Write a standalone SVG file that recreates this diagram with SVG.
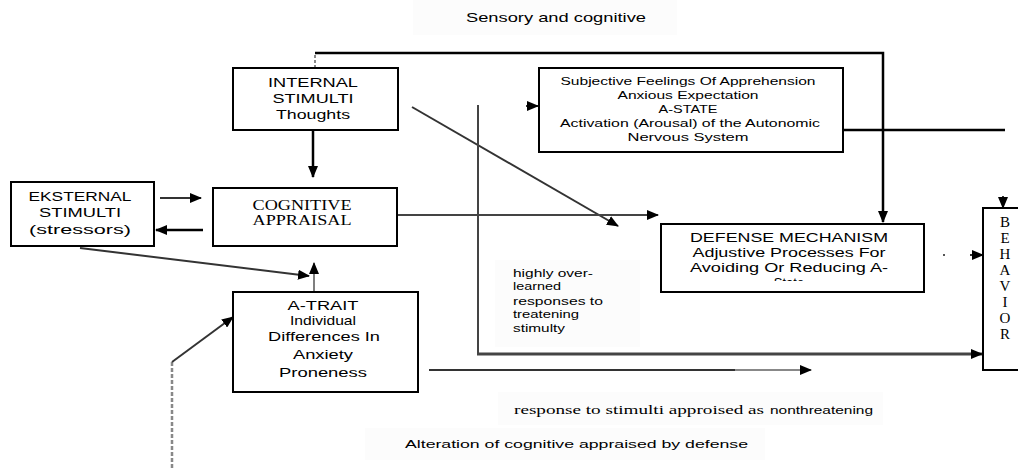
<svg xmlns="http://www.w3.org/2000/svg" width="1018" height="468" viewBox="0 0 1018 468">
<style>
.box{fill:#fff;stroke:#000;stroke-width:2}
.t{font-family:"Liberation Sans",Arial,sans-serif;font-size:13px;fill:#000;text-anchor:middle}
.s{font-family:"Liberation Sans",Arial,sans-serif;font-size:11.5px;fill:#000;text-anchor:middle}
.sl{font-family:"Liberation Sans",Arial,sans-serif;font-size:11.5px;fill:#000}
.serif{font-family:"Liberation Serif","Times New Roman",serif;fill:#000}
.c{fill:none;stroke:#333;stroke-width:2}
.k{fill:none;stroke:#000;stroke-width:2.5}
.bg{fill:#fcfcfc}
</style>
<defs>
<marker id="ah" markerWidth="12" markerHeight="10" refX="11" refY="5" orient="auto" markerUnits="userSpaceOnUse"><path d="M0,0 L12,5 L0,10 z" fill="#000"/></marker>
</defs>

<rect class="bg" x="413" y="0" width="264" height="35"/>
<rect class="bg" x="495" y="260" width="145" height="87"/>
<rect class="bg" x="498" y="392" width="385" height="33"/>
<rect class="bg" x="365" y="428" width="400" height="32"/>

<g id="connectors">
<path d="M315,68 V54" fill="none" stroke="#888" stroke-width="2" stroke-dasharray="3,2"/>
<path class="k" d="M315,53 H883 V222" marker-end="url(#ah)"/>
<path class="k" d="M313,130 V177" marker-end="url(#ah)"/>
<path class="c" d="M160,198 H201" marker-end="url(#ah)"/>
<path class="k" d="M203,230 H156" marker-end="url(#ah)"/>
<path class="c" d="M80,248 L309,276" marker-end="url(#ah)"/>
<path fill="none" stroke="#555" stroke-width="1.5" d="M314,292 V263" marker-end="url(#ah)"/>
<path fill="none" stroke="#888" stroke-width="2.5" stroke-dasharray="4,2" d="M172,468 V362"/>
<path class="c" d="M172,362 L233,317" marker-end="url(#ah)"/>
<path class="c" d="M412,107 L618,226" marker-end="url(#ah)"/>
<path fill="none" stroke="#444" stroke-width="2" d="M478,105 V354"/>
<path fill="none" stroke="#444" stroke-width="3" d="M477,354 H982" marker-end="url(#ah)"/>
<path fill="none" stroke="#444" stroke-width="2" d="M397,215 H658" marker-end="url(#ah)"/>
<path class="c" d="M526,106 H538" marker-end="url(#ah)"/>
<path class="k" d="M843,130 H1005"/>
<path fill="none" stroke="#333" stroke-width="2" d="M429,370 H735"/>
<path fill="none" stroke="#888" stroke-width="2" d="M735,370 H811" marker-end="url(#ah)"/>
<path class="c" d="M1003,196 V208" marker-end="url(#ah)"/>
<path class="c" d="M970,255 H983" marker-end="url(#ah)"/>
<rect x="943" y="254" width="2" height="2" fill="#555"/>
</g>

<g id="internal">
<rect class="box" x="233" y="68" width="165" height="62"/>
<text class="t" x="313" y="87" textLength="90" lengthAdjust="spacingAndGlyphs">INTERNAL</text>
<text class="t" x="313" y="103" textLength="81" lengthAdjust="spacingAndGlyphs">STIMULTI</text>
<text class="t" x="313" y="119" textLength="74" lengthAdjust="spacingAndGlyphs">Thoughts</text>
</g>

<g id="eksternal">
<rect class="box" x="11" y="182" width="143" height="64"/>
<text class="t" x="80" y="201" textLength="103" lengthAdjust="spacingAndGlyphs">EKSTERNAL</text>
<text class="t" x="80" y="217" textLength="82" lengthAdjust="spacingAndGlyphs">STIMULTI</text>
<text class="t" x="80" y="234" textLength="102" lengthAdjust="spacingAndGlyphs">(stressors)</text>
</g>

<g id="cognitive">
<rect class="box" x="213" y="188" width="184" height="58"/>
<text class="serif" x="302" y="210" font-size="14" text-anchor="middle" textLength="99" lengthAdjust="spacingAndGlyphs">COGNITIVE</text>
<text class="serif" x="302" y="225" font-size="14" text-anchor="middle" textLength="99" lengthAdjust="spacingAndGlyphs">APPRAISAL</text>
</g>

<g id="atrait">
<rect class="box" x="233" y="292" width="185" height="100"/>
<text class="t" x="323" y="310" textLength="71" lengthAdjust="spacingAndGlyphs">A-TRAIT</text>
<text class="t" x="323" y="325" textLength="66" lengthAdjust="spacingAndGlyphs">Individual</text>
<text class="t" x="324" y="341" textLength="112" lengthAdjust="spacingAndGlyphs">Differences In</text>
<text class="t" x="323" y="359" textLength="60" lengthAdjust="spacingAndGlyphs">Anxiety</text>
<text class="t" x="323" y="377" textLength="88" lengthAdjust="spacingAndGlyphs">Proneness</text>
</g>

<g id="astate">
<rect class="box" x="539" y="68" width="304" height="84"/>
<text class="s" x="688" y="85" textLength="255" lengthAdjust="spacingAndGlyphs">Subjective Feelings Of Apprehension</text>
<text class="s" x="688" y="99" textLength="141" lengthAdjust="spacingAndGlyphs">Anxious Expectation</text>
<text class="s" x="688" y="113" textLength="59" lengthAdjust="spacingAndGlyphs">A-STATE</text>
<text class="s" x="690" y="127" textLength="260" lengthAdjust="spacingAndGlyphs">Activation (Arousal) of the Autonomic</text>
<text class="s" x="688" y="141" textLength="121" lengthAdjust="spacingAndGlyphs">Nervous System</text>
</g>

<g id="defense">
<clipPath id="dclip"><rect x="661" y="224" width="263" height="57"/></clipPath>
<rect class="box" x="661" y="224" width="263" height="68"/>
<g clip-path="url(#dclip)">
<text class="t" x="789" y="242" textLength="198" lengthAdjust="spacingAndGlyphs">DEFENSE MECHANISM</text>
<text class="t" x="789" y="257" textLength="193" lengthAdjust="spacingAndGlyphs">Adjustive Processes For</text>
<text class="t" x="789" y="272" textLength="198" lengthAdjust="spacingAndGlyphs">Avoiding Or Reducing A-</text>
<text class="t" x="789" y="287">State</text>
</g>
</g>

<g id="behavior">
<rect class="box" x="983" y="208" width="40" height="162"/>
<g class="serif" font-size="15" text-anchor="middle">
<text x="1005" y="227">B</text>
<text x="1005" y="243">E</text>
<text x="1005" y="259">H</text>
<text x="1005" y="275">A</text>
<text x="1005" y="291">V</text>
<text x="1005" y="307">I</text>
<text x="1005" y="323">O</text>
<text x="1005" y="339">R</text>
</g>
</g>

<g id="labels">
<text class="t" x="556" y="22" textLength="180" lengthAdjust="spacingAndGlyphs">Sensory and cognitive</text>
<text class="sl" x="513" y="277" textLength="80" lengthAdjust="spacingAndGlyphs">highly over-</text>
<text class="sl" x="513" y="290" textLength="48" lengthAdjust="spacingAndGlyphs">learned</text>
<text class="sl" x="513" y="305" textLength="90" lengthAdjust="spacingAndGlyphs">responses to</text>
<text class="sl" x="513" y="318" textLength="66" lengthAdjust="spacingAndGlyphs">treatening</text>
<text class="sl" x="513" y="332" textLength="52" lengthAdjust="spacingAndGlyphs">stimulty</text>
<text class="serif" x="514" y="414" font-size="13" textLength="250" lengthAdjust="spacingAndGlyphs">response to stimulti approised as</text>
<text class="sl" x="770" y="414" font-size="13" textLength="103" lengthAdjust="spacingAndGlyphs">nonthreatening</text>
<text class="sl" x="405" y="448" font-size="13" textLength="343" lengthAdjust="spacingAndGlyphs">Alteration of cognitive appraised by defense</text>
</g>
</svg>
